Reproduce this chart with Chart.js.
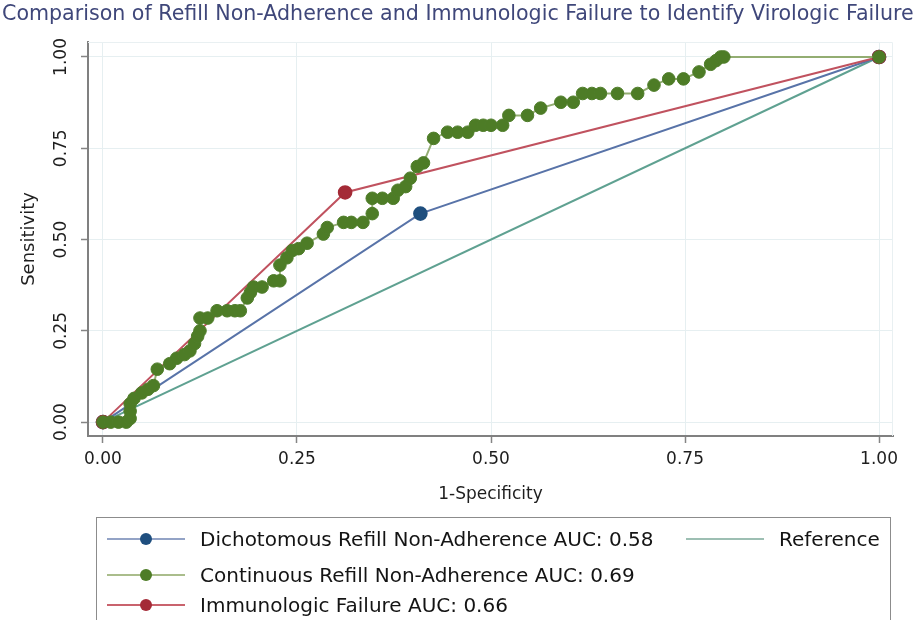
<!DOCTYPE html>
<html>
<head>
<meta charset="utf-8">
<script src="https://cdn.jsdelivr.net/npm/chart.js@4.4.1/dist/chart.umd.min.js"></script>
<style>
    html, body { margin: 0; padding: 0; background: #fff; overflow: hidden; }
    #wrap { position: relative; width: 919px; height: 620px; font-family: "DejaVu Sans", sans-serif; }
    #title { position: absolute; left: 2px; top: 1px; font-size: 20.6px; color: #3f477a; white-space: nowrap; }
    #rocChart { position: absolute; left: 0; top: 0; }
    #legend { position: absolute; left: 96px; top: 517px; width: 795px; height: 120px;
              border: 1.5px solid #8c8c8c; box-sizing: border-box; }
    .item { position: absolute; height: 24px; display: flex; align-items: center;
            font-size: 20px; color: #141414; white-space: nowrap; }
    .sym { position: relative; width: 78px; height: 12px; margin-right: 15px; }
    .sym .ln { position: absolute; left: 0; right: 0; top: 5px; height: 2px; }
    .sym .dot { position: absolute; left: 33px; top: 0; width: 12px; height: 12px; border-radius: 50%; }
</style>
</head>
<body>
<div id="wrap">
    <canvas id="rocChart" width="919" height="620"></canvas>
    <div id="title"></div>
    <div id="legend"></div>
</div>
<script>
// 차트 데이터
const titleText = 'Comparison of Refill Non-Adherence and Immunologic Failure to Identify Virologic Failure';
const xTitle = '1-Specificity';
const yTitle = 'Sensitivity';
const tickValues = [0, 0.25, 0.5, 0.75, 1];

// 연속형 (Continuous Refill Non-Adherence)
const contX = [0, 0.01, 0.02, 0.03, 0.035, 0.035, 0.035, 0.04, 0.05, 0.058, 0.065, 0.07,
    0.086, 0.095, 0.105, 0.112, 0.118, 0.122, 0.125, 0.125, 0.135, 0.147, 0.16, 0.17, 0.177,
    0.186, 0.19, 0.194, 0.205, 0.22, 0.228, 0.228, 0.237, 0.244, 0.252, 0.263, 0.284, 0.289,
    0.31, 0.32, 0.335, 0.347, 0.347, 0.36, 0.374, 0.38, 0.39, 0.396, 0.405, 0.413, 0.426,
    0.444, 0.457, 0.47, 0.48, 0.49, 0.5, 0.515, 0.523, 0.547, 0.564, 0.59, 0.606, 0.618,
    0.63, 0.641, 0.663, 0.689, 0.71, 0.729, 0.748, 0.768, 0.783, 0.79, 0.796, 0.8, 1];
const contY = [0, 0, 0, 0, 0.01, 0.03, 0.05, 0.065, 0.08, 0.09, 0.1, 0.145,
    0.16, 0.175, 0.185, 0.195, 0.215, 0.235, 0.25, 0.285, 0.285, 0.305, 0.305, 0.305, 0.305,
    0.34, 0.355, 0.37, 0.37, 0.387, 0.387, 0.43, 0.45, 0.47, 0.475, 0.49, 0.515, 0.533,
    0.547, 0.547, 0.547, 0.571, 0.613, 0.613, 0.613, 0.635, 0.645, 0.668, 0.7, 0.71, 0.777,
    0.794, 0.794, 0.794, 0.813, 0.813, 0.813, 0.813, 0.84, 0.84, 0.86, 0.876, 0.876, 0.9,
    0.9, 0.9, 0.9, 0.9, 0.923, 0.94, 0.94, 0.959, 0.98, 0.99, 1, 1, 1];

// 이분형 (Dichotomous Refill Non-Adherence)
const dichoX = [0, 0.409, 1];
const dichoY = [0, 0.571, 1];

// 면역학적 실패 (Immunologic Failure)
const immunoX = [0, 0.312, 1];
const immunoY = [0, 0.629, 1];

// 기준선
const refX = [0, 1];
const refY = [0, 1];

const legendLabels = [
    'Dichotomous Refill Non-Adherence AUC: 0.58',
    'Continuous Refill Non-Adherence AUC: 0.69',
    'Immunologic Failure AUC: 0.66',
    'Reference'
];

function toPoints(xs, ys) {
    return xs.map((x, i) => ({ x: x, y: ys[i] }));
}

// 제목과 범례 (HTML)
document.getElementById('title').textContent = titleText;

function addLegendItem(left, top, lineColor, dotColor, text) {
    const item = document.createElement('div');
    item.className = 'item';
    item.style.left = left + 'px';
    item.style.top = top + 'px';
    const sym = document.createElement('div');
    sym.className = 'sym';
    const ln = document.createElement('div');
    ln.className = 'ln';
    ln.style.background = lineColor;
    sym.appendChild(ln);
    if (dotColor) {
        const dot = document.createElement('div');
        dot.className = 'dot';
        dot.style.background = dotColor;
        sym.appendChild(dot);
    }
    const label = document.createElement('span');
    label.textContent = text;
    item.appendChild(sym);
    item.appendChild(label);
    document.getElementById('legend').appendChild(item);
}
addLegendItem(10, 9, '#93a3c6', '#1f4f7f', legendLabels[0]);
addLegendItem(10, 45, '#aabd8c', '#4d7c26', legendLabels[1]);
addLegendItem(10, 75, '#c9636d', '#a42b37', legendLabels[2]);
addLegendItem(589, 9, '#9dbfb3', null, legendLabels[3]);

// 플롯 영역 바깥 테두리 (위/오른쪽 연한 선)
const framePlugin = {
    id: 'frame',
    beforeDatasetsDraw(chart) {
        const { ctx, chartArea: a } = chart;
        ctx.save();
        ctx.strokeStyle = '#e9f0f2';
        ctx.lineWidth = 1;
        ctx.beginPath();
        ctx.moveTo(a.left, a.top + 0.5);
        ctx.lineTo(a.right - 0.5, a.top + 0.5);
        ctx.lineTo(a.right - 0.5, a.bottom);
        ctx.stroke();
        ctx.restore();
    }
};

const axisFont = { family: '"DejaVu Sans", sans-serif', size: 17 };
const yTitleFont = { family: '"DejaVu Sans", sans-serif', size: 18 };

new Chart(document.getElementById('rocChart').getContext('2d'), {
    type: 'scatter',
    data: {
        datasets: [
            {
                label: legendLabels[1],
                data: toPoints(contX, contY),
                showLine: true,
                borderColor: '#93ad72',
                borderWidth: 2,
                pointRadius: 6.3,
                pointBackgroundColor: '#4d7c26',
                pointBorderColor: '#4f7d2a',
                pointBorderWidth: 1
            },
            {
                label: legendLabels[2],
                data: toPoints(immunoX, immunoY),
                showLine: true,
                borderColor: '#c0525f',
                borderWidth: 2,
                pointRadius: 6.3,
                pointBackgroundColor: '#a42b37',
                pointBorderColor: '#a42b37'
            },
            {
                label: legendLabels[0],
                data: toPoints(dichoX, dichoY),
                showLine: true,
                borderColor: '#5873a8',
                borderWidth: 2,
                pointRadius: 6.3,
                pointBackgroundColor: '#1f4f7f',
                pointBorderColor: '#1f4f7f'
            },
            {
                label: legendLabels[3],
                data: toPoints(refX, refY),
                showLine: true,
                borderColor: '#5fa191',
                borderWidth: 2,
                pointRadius: 0
            }
        ]
    },
    options: {
        responsive: false,
        animation: false,
        devicePixelRatio: 1,
        layout: { padding: { top: 42, right: 26, left: 0, bottom: 0 } },
        plugins: {
            legend: { display: false },
            tooltip: { enabled: false },
            title: { display: false }
        },
        scales: {
            x: {
                type: 'linear',
                min: -0.0193,
                max: 1.018,
                afterBuildTicks: (s) => { s.ticks = tickValues.map(v => ({ value: v })); },
                afterFit: (s) => { s.height = 184; },
                ticks: {
                    callback: (v) => Number(v).toFixed(2),
                    font: axisFont,
                    color: '#1e1e1e',
                    padding: 6,
                    maxRotation: 0
                },
                grid: { color: '#e6eff1', lineWidth: 1, tickColor: '#858585', tickLength: 7, tickWidth: 1.5 },
                border: { color: '#808080', width: 2 },
                title: {
                    display: true,
                    text: xTitle,
                    font: axisFont,
                    color: '#1e1e1e',
                    padding: { top: 0, bottom: 115 }
                }
            },
            y: {
                type: 'linear',
                min: -0.038,
                max: 1.041,
                afterBuildTicks: (s) => { s.ticks = tickValues.map(v => ({ value: v })); },
                afterFit: (s) => { s.width = 88; },
                ticks: {
                    callback: (v) => Number(v).toFixed(2),
                    font: axisFont,
                    color: '#1e1e1e',
                    padding: 0,
                    minRotation: 90,
                    maxRotation: 90,
                    crossAlign: 'center'
                },
                grid: { color: '#e6eff1', lineWidth: 1, tickColor: '#858585', tickLength: 7, tickWidth: 1.5 },
                border: { color: '#808080', width: 2 },
                title: {
                    display: true,
                    text: yTitle,
                    font: yTitleFont,
                    color: '#1e1e1e',
                    padding: { top: 19, bottom: 0 }
                }
            }
        }
    },
    plugins: [framePlugin]
});
</script>
</body>
</html>
